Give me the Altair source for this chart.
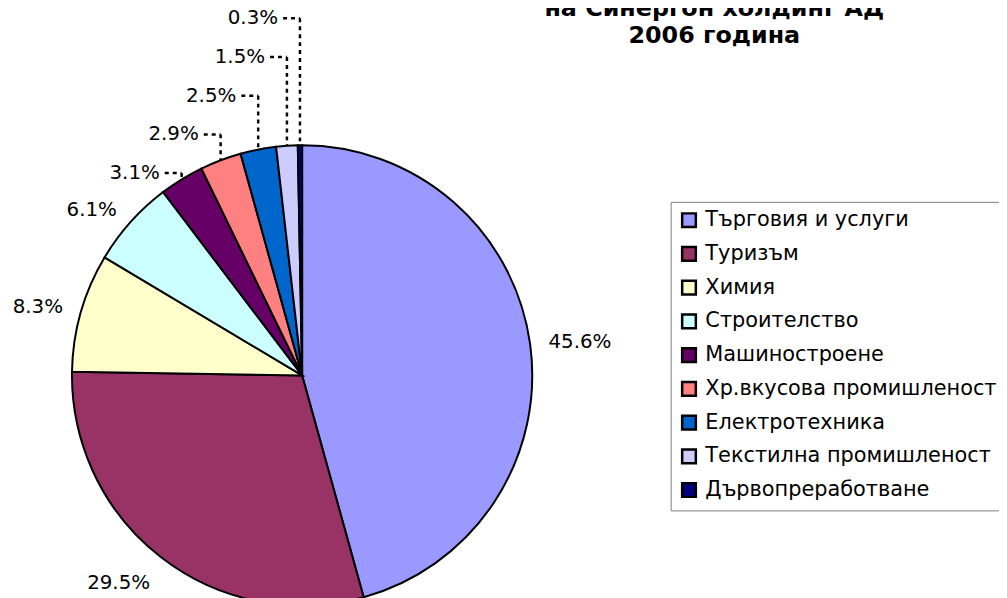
import math
import altair as alt
import pandas as pd

# ---------------- data ----------------
categories = ["Търговия и услуги", "Туризъм", "Химия", "Строителство", "Машиностроене",
              "Хр.вкусова промишленост", "Електротехника", "Текстилна промишленост",
              "Дървопреработване"]
shares = [45.6, 29.5, 8.3, 6.1, 3.1, 2.9, 2.5, 1.5, 0.3]
colors = ["#9999FF", "#993366", "#FFFFCC", "#CCFFFF", "#660066", "#FF8080",
          "#0066CC", "#CCCCFF", "#000080"]
title_lines = ["на Синергон холдинг АД", "2006 година"]

# ---------------- layout ----------------
W, H = 999, 600
CX, CY, R = 296.5, 368.0, 232.0
FONT = "DejaVu Sans"
LABEL_FS = 20
K_LABEL = 1.08
STACK_LIMIT = 4.0
STACK_BASE_PX = 164
STACK_STEP_PX = 39
LEADER_GAP_PX = 22

CHAR_W = {"0": .636, "1": .636, "2": .636, "3": .636, "4": .636, "5": .636,
          "6": .636, "7": .636, "8": .636, "9": .636, ".": .318, "%": .95}


def text_w(t):
    return sum(CHAR_W.get(ch, .6) for ch in t) * LABEL_FS


xs = alt.Scale(domain=[-CX / R, (W - CX) / R], nice=False, zero=False)
ys = alt.Scale(domain=[-(H - CY) / R, CY / R], nice=False, zero=False)

df = pd.DataFrame({"category": categories, "share": shares, "idx": list(range(len(shares)))})

total = sum(shares)
cum = 0.0
big, small = [], []
for c, s in zip(categories, shares):
    mid = (cum + s / 2) / total * 2 * math.pi
    cum += s
    sn, cs = math.sin(mid), math.cos(mid)
    txt = f"{s:.1f}%"
    if s >= STACK_LIMIT:
        w = text_w(txt)
        h = LABEL_FS * 1.1
        pu, pv = K_LABEL * sn, K_LABEL * cs
        cu = pu + math.copysign(w / 2, sn) / R
        cv = pv + (0 if abs(sn) >= 0.7 else math.copysign(h / 2, cs) / R)
        big.append({"label": txt, "u": cu, "v": cv})
    else:
        small.append({"label": txt, "eu": sn, "ev": cs})

for j, d in enumerate(small):
    d["v"] = (CY - (STACK_BASE_PX - j * STACK_STEP_PX)) / R
    d["u"] = d["eu"] - LEADER_GAP_PX / R
    d["hs"] = d["u"] + 5 / R

big_df = pd.DataFrame(big)
small_df = pd.DataFrame(small)

X0 = alt.XDatum(0, type="quantitative", scale=xs, axis=None)
Y0 = alt.YDatum(0, type="quantitative", scale=ys, axis=None)

arcs = alt.Chart(df).mark_arc(outerRadius=R, stroke="black", strokeWidth=2).encode(
    theta=alt.Theta("share:Q", stack=True),
    order=alt.Order("idx:Q"),
    color=alt.Color(
        "category:N",
        scale=alt.Scale(domain=categories, range=colors),
        legend=alt.Legend(
            orient="none", legendX=668, legendY=193, title=None, padding=8,
            rowPadding=9, labelFont=FONT, labelFontSize=21, labelColor="black",
            symbolType="square", symbolSize=190, symbolStrokeColor="black",
            symbolStrokeWidth=2.5, strokeColor="#808080", fillColor="white",
            labelOffset=6, labelLimit=400,
        ),
    ),
    x=X0,
    y=Y0,
)

big_text = alt.Chart(big_df).mark_text(
    font=FONT, fontSize=LABEL_FS, color="black", align="center", baseline="middle"
).encode(
    x=alt.X("u:Q", scale=xs, axis=None),
    y=alt.Y("v:Q", scale=ys, axis=None),
    text="label:N",
)

small_text = alt.Chart(small_df).mark_text(
    font=FONT, fontSize=LABEL_FS, color="black", align="right", baseline="middle"
).encode(
    x=alt.X("u:Q", scale=xs, axis=None),
    y=alt.Y("v:Q", scale=ys, axis=None),
    text="label:N",
)

lead_h = alt.Chart(small_df).mark_rule(color="black", strokeWidth=2.5, strokeDash=[4, 4]).encode(
    x=alt.X("hs:Q", scale=xs, axis=None),
    x2="eu:Q",
    y=alt.Y("v:Q", scale=ys, axis=None),
)

lead_v = alt.Chart(small_df).mark_rule(color="black", strokeWidth=2.5, strokeDash=[4, 4]).encode(
    x=alt.X("eu:Q", scale=xs, axis=None),
    y=alt.Y("v:Q", scale=ys, axis=None),
    y2="ev:Q",
)

chart = alt.layer(lead_h, lead_v, arcs, big_text, small_text).properties(
    width=W, height=H,
    title=alt.TitleParams(
        text=title_lines, font=FONT, fontSize=24, fontWeight="bold", color="black",
        anchor="middle", dx=712 - W / 2, offset=-40, lineHeight=27,
    ),
    autosize=alt.AutoSizeParams(type="none"),
    padding=0,
    background="white",
).configure_view(stroke=None).configure_legend(
    symbolStrokeWidth=2.5, symbolStrokeColor="black"
)

chart.save("out.html", embed_options={"renderer": "svg", "actions": False})
